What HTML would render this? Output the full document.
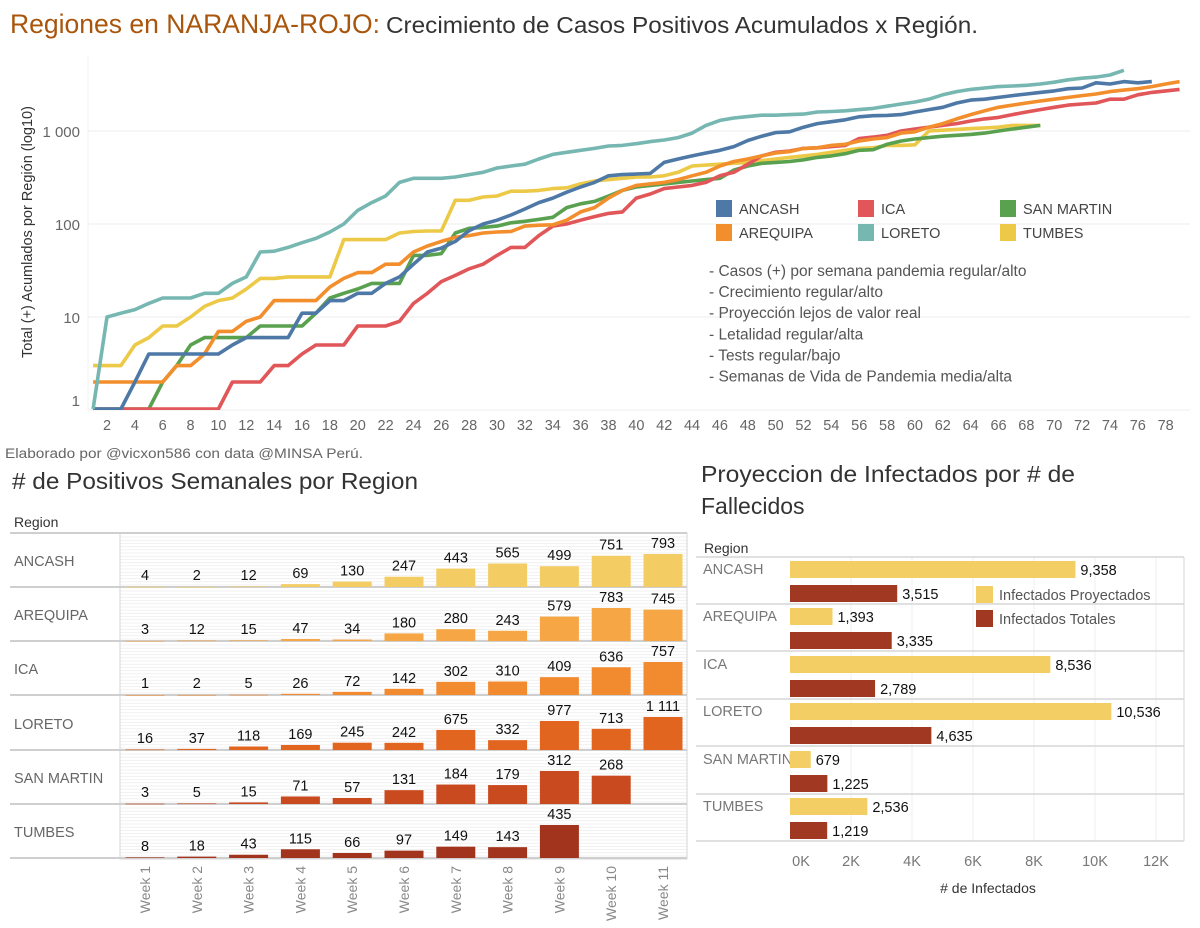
<!DOCTYPE html>
<html><head><meta charset="utf-8">
<style>
html,body{margin:0;padding:0;background:#fff;}
svg{display:block;font-family:"Liberation Sans",sans-serif;}
</style></head>
<body>
<svg id="root" width="1200" height="928" viewBox="0 0 1200 928" xmlns="http://www.w3.org/2000/svg">
  <g>
    <text x="10" y="33" font-size="27" fill="#a9560c" textLength="370" lengthAdjust="spacingAndGlyphs">Regiones en NARANJA-ROJO:</text>
    <text x="386" y="33" font-size="23" fill="#333" textLength="592" lengthAdjust="spacingAndGlyphs">Crecimiento de Casos Positivos Acumulados x Región.</text>
  </g>
  <g id="top-chart"></g>
  <text x="5" y="458" font-size="13.5" fill="#666" textLength="358" lengthAdjust="spacingAndGlyphs">Elaborado por @vicxon586 con data @MINSA Perú.</text>
  <text x="12" y="489" font-size="23" fill="#333" textLength="406" lengthAdjust="spacingAndGlyphs"># de Positivos Semanales por Region</text>
  <g id="weekly"></g>
  <g>
    <text x="701" y="482" font-size="23" fill="#333" textLength="374" lengthAdjust="spacingAndGlyphs">Proyeccion de Infectados por # de</text>
    <text x="701" y="514" font-size="23" fill="#333">Fallecidos</text>
  </g>
  <g id="proj"></g>
</svg>
<script>
// ---------- TOP CHART DATA ----------
const regionNames = ["ANCASH","AREQUIPA","ICA","LORETO","SAN MARTIN","TUMBES"];
const ancashCum = [0,0,0,2,4,4,4,4,4,4,5,6,6,6,6,11,11,15,15,18,18,23,27,37,50,55,65,85,100,110,125,145,170,190,220,250,280,330,340,345,350,460,500,540,580,620,680,790,880,960,980,1100,1200,1260,1320,1420,1460,1470,1500,1600,1700,1800,2000,2150,2200,2300,2400,2500,2600,2700,2850,2900,3300,3200,3400,3300,3400];
const arequipaCum = [2,2,2,2,2,2,3,3,4,7,7,9,10,15,15,15,15,21,26,30,30,37,37,50,58,65,72,75,80,82,83,95,97,98,110,135,150,190,230,260,270,280,300,330,360,420,470,500,540,580,600,650,660,700,720,780,820,850,950,980,1100,1200,1350,1500,1650,1800,1900,2000,2100,2200,2300,2400,2500,2650,2750,2850,3000,3200,3400];
const icaCum = [0,0,0,0,0,0,0,0,0,0,2,2,2,3,3,4,5,5,5,8,8,8,9,14,18,24,28,33,37,46,56,56,75,95,100,110,120,130,135,190,210,240,250,260,280,330,360,440,540,590,610,650,660,680,700,830,860,900,1000,1050,1100,1150,1200,1280,1350,1400,1500,1600,1700,1800,1900,1950,2000,2200,2200,2450,2600,2700,2800];
const loretoCum = [0,10,11,12,14,16,16,16,18,18,23,27,50,51,56,63,70,82,100,140,170,200,280,310,310,310,320,340,360,400,420,440,500,560,590,620,650,690,700,730,770,800,850,950,1150,1300,1380,1430,1480,1480,1500,1520,1600,1620,1650,1700,1750,1850,1950,2050,2200,2450,2650,2800,2900,3000,3050,3100,3200,3350,3550,3700,3800,4000,4500];
const sanMartinCum = [0,0,0,0,0,2,3,5,6,6,6,6,8,8,8,8,11,16,18,20,23,23,23,46,46,48,80,90,92,95,103,107,112,118,150,165,175,200,230,250,260,270,280,290,300,310,380,420,450,460,470,490,520,540,570,620,630,720,780,820,850,880,900,920,950,1000,1050,1100,1150];
const tumbesCum = [3,3,3,5,6,8,8,10,13,15,16,20,26,26,27,27,27,27,68,68,68,68,80,83,84,84,180,180,195,200,225,225,230,240,245,270,290,300,310,320,320,330,360,420,430,440,450,460,480,500,520,540,560,590,620,650,660,700,700,710,1000,1020,1040,1060,1080,1100,1150,1150,1150];
const yTickValues = [1,10,100,1000];
const yTickLabels = ["1","10","100","1 000"];
const xTickDays = [2,4,6,8,10,12,14,16,18,20,22,24,26,28,30,32,34,36,38,40,42,44,46,48,50,52,54,56,58,60,62,64,66,68,70,72,74,76,78];
const notes = ["- Casos (+) por semana pandemia regular/alto","- Crecimiento regular/alto","- Proyección lejos de valor real","- Letalidad regular/alta","- Tests regular/bajo","- Semanas de Vida de Pandemia media/alta"];

// ---------- WEEKLY DATA ----------
const weekLabels = ["Week 1","Week 2","Week 3","Week 4","Week 5","Week 6","Week 7","Week 8","Week 9","Week 10","Week 11"];
const wkAncash = [4,2,12,69,130,247,443,565,499,751,793];
const wkArequipa = [3,12,15,47,34,180,280,243,579,783,745];
const wkIca = [1,2,5,26,72,142,302,310,409,636,757];
const wkLoreto = [16,37,118,169,245,242,675,332,977,713,1111];
const wkSanMartin = [3,5,15,71,57,131,184,179,312,268];
const wkTumbes = [8,18,43,115,66,97,149,143,435];

// ---------- PROJECTION DATA ----------
const projProyectados = [9358,1393,8536,10536,679,2536];
const projTotales = [3515,3335,2789,4635,1225,1219];
const projTicks = [0,2000,4000,6000,8000,10000,12000];
const projTickLabels = ["0K","2K","4K","6K","8K","10K","12K"];

const NS = "http://www.w3.org/2000/svg";
function mk(parent, tag, attrs, text){
  const e = document.createElementNS(NS, tag);
  for (const k in attrs) e.setAttribute(k, attrs[k]);
  if (text !== undefined) e.textContent = text;
  parent.appendChild(e);
  return e;
}
function fmtSpace(v){ return v >= 1000 ? Math.floor(v/1000) + " " + String(v%1000).padStart(3,"0") : String(v); }
function fmtComma(v){ return v.toLocaleString("en-US"); }

// ---------- TOP CHART ----------
(function(){
  const g = document.getElementById("top-chart");
  const left = 88, right = 1190, top = 55, bottom = 410;
  const xDay = d => 107 + (d - 2) * 13.93;
  const yVal = v => { const y = 410 - 93 * Math.log10(Math.max(v, 0.5)); return Math.min(y, 409); };
  const defs = mk(g, "defs", {});
  const cp = mk(defs, "clipPath", {id: "plotclip"});
  mk(cp, "rect", {x: left, y: top, width: right - left, height: bottom - top});
  yTickValues.forEach((v, i) => {
    const gl = mk(g, "line", {x1: left, x2: right, y1: yVal(v) + (v === 1 ? 1 : 0), y2: yVal(v) + (v === 1 ? 1 : 0), stroke: "#ececec", "stroke-width": 1});
    
    
    const t = mk(g, "text", {x: 80, y: (v === 1 ? 406 : yVal(v) + 6), "text-anchor": "end", "font-size": 15, fill: "#666"}, yTickLabels[i]);
    
    
  });
  mk(g, "line", {x1: left, x2: left, y1: top, y2: bottom, stroke: "#f2f2f2"});
  xTickDays.forEach(d => {
    const t = mk(g, "text", {x: xDay(d), y: 430, "text-anchor": "middle", "font-size": 14.5, fill: "#666"}, String(d));
    
    
  });
  const yt = mk(g, "text", {x: 0, y: 0, transform: "translate(32,232) rotate(-90)", "text-anchor": "middle", "font-size": 14.5, fill: "#333"}, "Total (+) Acumlados por Región (log10)");
  
  

  const colors = ["#4e79a7","#f28e2b","#e15759","#76b7b2","#59a14f","#edc948"];
  const seriesList = [ancashCum, arequipaCum, icaCum, loretoCum, sanMartinCum, tumbesCum];
  const order = [5,4,2,1,0,3];
  const lg = mk(g, "g", {"clip-path": "url(#plotclip)"});
  order.forEach(i => {
    const s = seriesList[i];
    const pts = s.map((v, k) => xDay(k + 1).toFixed(1) + "," + yVal(v).toFixed(1)).join(" ");
    const pl = mk(lg, "polyline", {points: pts, fill: "none", stroke: colors[i], "stroke-width": 3.6, "stroke-linejoin": "round"});
    
    
  });
  // legend
  const legendX = [716, 858, 1000];
  const legendOrder = [[0,2,4],[1,3,5]];
  legendOrder.forEach((row, r) => row.forEach((idx, c) => {
    const eg = mk(g, "g", {});
    
    
    const y = 200 + r * 24;
    mk(eg, "rect", {x: legendX[c], y: y, width: 16, height: 17, fill: colors[idx]});
    mk(eg, "text", {x: legendX[c] + 23, y: y + 14, "font-size": 14.5, fill: "#444"}, regionNames[idx]);
  }));
  notes.forEach((n, i) => {
    const t = mk(g, "text", {x: 709, y: 276 + i * 21.1, "font-size": 15.5, fill: "#555"}, n);
    
    
  });
})();

// ---------- WEEKLY CHART ----------
(function(){
  const g = document.getElementById("weekly");
  const rows = [wkAncash, wkArequipa, wkIca, wkLoreto, wkSanMartin, wkTumbes];
  const barColors = ["#f3cd64","#f6a645","#f28b30","#e1641f","#c94a1f","#a2331c"];
  const rowTop = [533,587,641,696,750,804], rowH = 54;
  const bx0 = 120, bx1 = 687;
  const colX = i => 145 + i * 51.8;
  const rl = mk(g, "text", {x: 14, y: 527, "font-size": 14, fill: "#333"}, "Region");
  
  
  // stripes
  for (let r = 0; r < 6; r++) {
    for (let y = rowTop[r] + 4; y < rowTop[r] + rowH - 1; y += 3.2) {
      mk(g, "line", {x1: bx0, x2: bx1, y1: y, y2: y, stroke: "#f1f1f1", "stroke-width": 1});
    }
  }
  mk(g, "rect", {x: bx0, y: 533, width: bx1 - bx0, height: 859 - 533, fill: "none", stroke: "#d6d6d6"});
  rows.forEach((vals, r) => {
    const base = rowTop[r] + rowH;
    const mx = Math.max(...vals);
    const ln = mk(g, "line", {x1: 10, x2: bx1, y1: base, y2: base, stroke: "#cfcfcf", "stroke-width": 2});
    
    
    const lab = mk(g, "text", {x: 14, y: rowTop[r] + 33, "font-size": 14.5, fill: "#666"}, regionNames[r]);
    
    
    vals.forEach((v, i) => {
      const h = v / mx * 33;
      const b = mk(g, "rect", {x: colX(i) - 19.5, y: base - h, width: 39, height: Math.max(h, 0.6), fill: barColors[r]});
      
      
      const ly = Math.min(base - h - 6, base - 7);
      const t = mk(g, "text", {x: colX(i), y: ly, "text-anchor": "middle", "font-size": 14.5, fill: "#111"}, fmtSpace(v));
      
      
    });
  });
  mk(g, "line", {x1: 10, x2: bx1, y1: 533, y2: 533, stroke: "#cfcfcf", "stroke-width": 2});
  weekLabels.forEach((w, i) => {
    const t = mk(g, "text", {x: 0, y: 0, transform: `translate(${colX(i) + 5},866) rotate(-90)`, "text-anchor": "end", "font-size": 14, fill: "#888"}, w);
    
    
  });
})();

// ---------- PROJECTION CHART ----------
(function(){
  const g = document.getElementById("proj");
  const x0 = 790, k = 0.0305;
  const xv = v => x0 + v * k;
  const rowTop = [557,604,652,699,747,794], rowH = 47;
  const rl = mk(g, "text", {x: 704, y: 553, "font-size": 14, fill: "#333"}, "Region");
  
  
  projTicks.forEach((v, i) => {
    if (v > 0) {
      const gl = mk(g, "line", {x1: xv(v), x2: xv(v), y1: 557, y2: 841, stroke: "#efefef"});
      
      
    }
    const t = mk(g, "text", {x: xv(v) + (v === 0 ? 11 : 0), y: 866, "text-anchor": "middle", "font-size": 14.5, fill: "#777"}, projTickLabels[i]);
    
    
  });
  mk(g, "line", {x1: 1184, x2: 1184, y1: 557, y2: 841, stroke: "#d6d6d6"});
  mk(g, "line", {x1: 696, x2: 1184, y1: 557, y2: 557, stroke: "#d6d6d6", "stroke-width": 1.5});
  regionNames.forEach((name, r) => {
    const t0 = rowTop[r];
    mk(g, "line", {x1: 696, x2: 1184, y1: t0 + rowH, y2: t0 + rowH, stroke: "#d6d6d6", "stroke-width": 1.5});
    const lab = mk(g, "text", {x: 703, y: t0 + 17, "font-size": 14.5, fill: "#777"}, name);
    
    
    const b1 = mk(g, "rect", {x: x0, y: t0 + 4, width: projProyectados[r] * k, height: 17, fill: "#f3ce64"});
    
    
    const l1 = mk(g, "text", {x: xv(projProyectados[r]) + 5, y: t0 + 18, "font-size": 14.5, fill: "#111"}, fmtComma(projProyectados[r]));
    
    
    const b2 = mk(g, "rect", {x: x0, y: t0 + 28, width: projTotales[r] * k, height: 17, fill: "#a13822"});
    
    
    const l2 = mk(g, "text", {x: xv(projTotales[r]) + 5, y: t0 + 42, "font-size": 14.5, fill: "#111"}, fmtComma(projTotales[r]));
    
    
  });
  const lg1 = mk(g, "g", {});
  
  
  mk(lg1, "rect", {x: 976, y: 586, width: 17, height: 17, fill: "#f3ce64"});
  mk(lg1, "text", {x: 999, y: 600, "font-size": 14.5, fill: "#555"}, "Infectados Proyectados");
  const lg2 = mk(g, "g", {});
  
  
  mk(lg2, "rect", {x: 976, y: 610, width: 17, height: 17, fill: "#a13822"});
  mk(lg2, "text", {x: 999, y: 624, "font-size": 14.5, fill: "#555"}, "Infectados Totales");
  const at = mk(g, "text", {x: 988, y: 893, "text-anchor": "middle", "font-size": 14, fill: "#333"}, "# de Infectados");
  
  
})();
</script>
</body></html>
